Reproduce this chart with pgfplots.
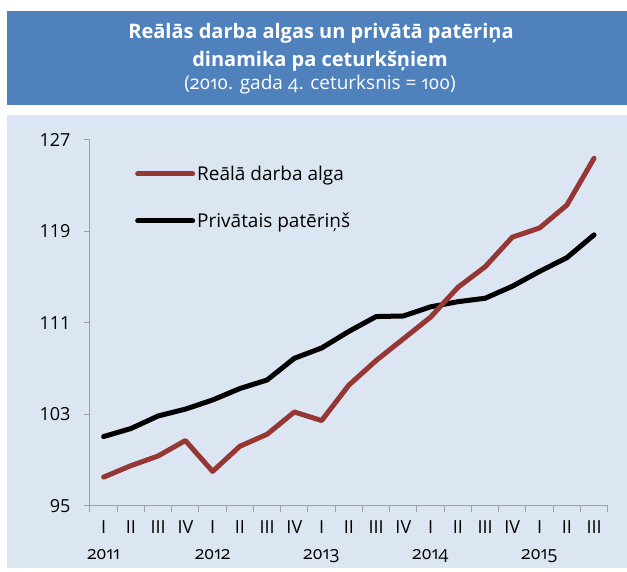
\documentclass[border=0pt]{standalone}
\usepackage{fontspec}
\setmainfont{Open Sans}
\newfontfamily\osf{Open Sans}[Numbers=OldStyle]
\usepackage{pgfplots}
\pgfplotsset{compat=1.18}
\definecolor{titleblue}{HTML}{4F81BD}
\definecolor{bgblue}{HTML}{DCE6F2}
\definecolor{wagered}{HTML}{953735}
\definecolor{axgray}{HTML}{A0A0A0}
\begin{document}
\begin{tikzpicture}
\fill[white] (0pt,0pt) rectangle (627pt,572pt);
\fill[titleblue] (7pt,467pt) rectangle (627pt,561pt);
\fill[bgblue] (7pt,4pt) rectangle (627pt,457pt);
\node[white,anchor=base,inner sep=0pt,font=\bfseries\fontsize{20}{24}\selectfont] at (321pt,533.7pt) {Reālās darba algas un privātā patēriņa};
\node[white,anchor=base,inner sep=0pt,font=\bfseries\fontsize{20}{24}\selectfont] at (320pt,505.3pt) {dinamika pa ceturkšņiem};
\node[white,anchor=base,inner sep=0pt,font=\osf\fontsize{19}{24}\selectfont] at (320pt,482pt) {(2010. gada 4. ceturksnis = 100)};
\begin{axis}[
  at={(90pt,66.3pt)}, anchor=south west,
  scale only axis, width=517.7pt, height=365.7pt,
  xmin=0.5, xmax=19.5, ymin=95, ymax=127,
  axis x line*=bottom, axis y line*=left,
  axis line style={axgray, line width=1pt},
  ytick={95,103,111,119,127},
  xtick={1,...,19},
  xticklabels={{I\\\osf 2011},II,III,IV,{I\\\osf 2012},II,III,IV,{I\\\osf 2013},II,III,IV,{I\\\osf 2014},II,III,IV,{I\\\osf 2015},II,III},
  xticklabel style={align=center, font=\fontsize{18}{26}\selectfont, yshift=-5pt},
  yticklabel style={font=\fontsize{18}{22}\selectfont, xshift=-10pt},
  /pgf/number format/assume math mode=true,
  major x tick style={draw=none},
  minor xtick={0.5,1.5,...,19.5},
  tick align=outside,
  major tick length=6pt, minor tick length=6pt,
  tick style={axgray, line width=1pt},
  legend cell align=left,
  reverse legend,
  legend style={draw=none, fill=none, inner sep=0pt, at={(0.0869,0.935)}, anchor=north west,
    font=\fontsize{19}{22}\selectfont, row sep=27pt},
  legend image code/.code={\draw[#1,line cap=round] (0pt,0pt) -- (55pt,0pt);},
]
\addplot[black, line width=5pt, line join=round, line cap=round] coordinates {
(1,101.05) (2,101.75) (3,102.85) (4,103.45) (5,104.25) (6,105.25) (7,106.0) (8,107.9) (9,108.8) (10,110.25)
(11,111.55) (12,111.6) (13,112.4) (14,112.85) (15,113.15) (16,114.2) (17,115.5) (18,116.7) (19,118.7)};
\addlegendentry{Privātais patēriņš}
\addplot[wagered, line width=5pt, line join=round, line cap=round] coordinates {
(1,97.5) (2,98.5) (3,99.35) (4,100.7) (5,98.0) (6,100.2) (7,101.25) (8,103.2) (9,102.45) (10,105.55)
(11,107.7) (12,109.6) (13,111.5) (14,114.1) (15,115.9) (16,118.5) (17,119.3) (18,121.3) (19,125.4)};
\addlegendentry{Reālā darba alga}
\end{axis}
\end{tikzpicture}
\end{document}
